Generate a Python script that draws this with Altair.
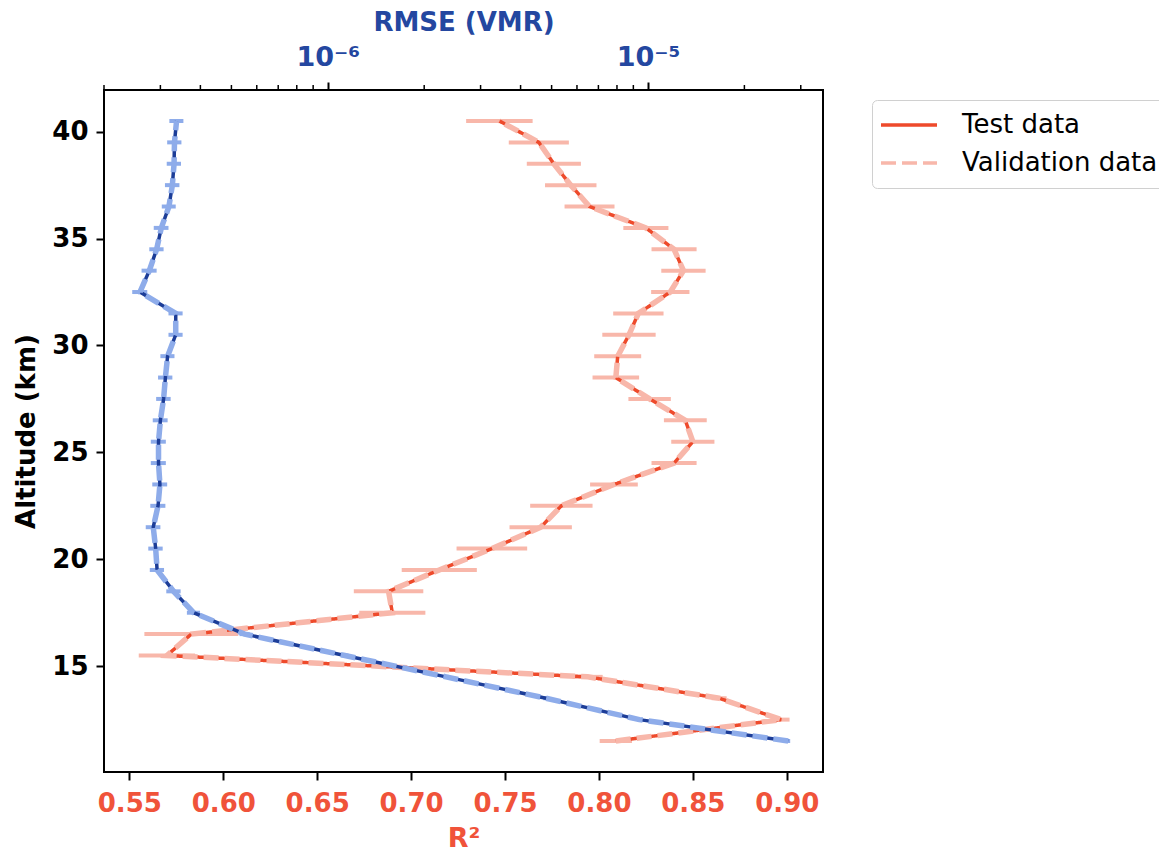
import altair as alt
import pandas as pd

# ---------------- data ----------------
altitude = [11.5, 12.5, 13.5, 14.5, 15.5, 16.5, 17.5, 18.5, 19.5, 20.5,
            21.5, 22.5, 23.5, 24.5, 25.5, 26.5, 27.5, 28.5, 29.5, 30.5,
            31.5, 32.5, 33.5, 34.5, 35.5, 36.5, 37.5, 38.5, 39.5, 40.5]

r2_values = [0.809, 0.897, 0.864, 0.794, 0.570, 0.583, 0.690, 0.688, 0.715, 0.743,
             0.769, 0.780, 0.808, 0.840, 0.850, 0.846, 0.827, 0.809, 0.810, 0.816,
             0.821, 0.838, 0.845, 0.840, 0.825, 0.795, 0.785, 0.776, 0.768, 0.747]

r2_err = [0.0086, 0.0045, 0.0040, 0.0080, 0.0150, 0.0250, 0.0176, 0.0185, 0.0200, 0.0188,
          0.0166, 0.0166, 0.0127, 0.0120, 0.0115, 0.0114, 0.0113, 0.0124, 0.0125, 0.0142,
          0.0134, 0.0102, 0.0118, 0.0120, 0.0120, 0.0133, 0.0137, 0.0144, 0.0160, 0.0177]

rmse_values = [2.74e-5, 9.4e-6, 4.8e-6, 2.34e-6, 1.13e-6, 5.5e-7, 3.81e-7, 3.30e-7, 2.93e-7, 2.90e-7,
               2.85e-7, 2.95e-7, 2.99e-7, 2.96e-7, 2.96e-7, 3.00e-7, 3.07e-7, 3.11e-7, 3.16e-7, 3.35e-7,
               3.35e-7, 2.59e-7, 2.77e-7, 2.92e-7, 3.02e-7, 3.19e-7, 3.27e-7, 3.31e-7, 3.32e-7, 3.37e-7]

rmse_err = [4.0e-7, 1.6e-7, 9.0e-8, 5.0e-8, 3.0e-8, 2.0e-8, 1.8e-8, 1.7e-8, 1.5e-8, 1.5e-8,
            1.5e-8, 1.6e-8, 1.6e-8, 1.6e-8, 1.6e-8, 1.6e-8, 1.6e-8, 1.6e-8, 1.6e-8, 1.7e-8,
            1.7e-8, 1.4e-8, 1.5e-8, 1.5e-8, 1.6e-8, 1.6e-8, 1.7e-8, 1.7e-8, 1.7e-8, 1.7e-8]

series_names = ["Test data", "Validation data"]
r2_ticks = [0.55, 0.60, 0.65, 0.70, 0.75, 0.80, 0.85, 0.90]
alt_ticks = [15, 20, 25, 30, 35, 40]
rmse_major = [1e-6, 1e-5]
rmse_minor = [2e-7, 3e-7, 4e-7, 5e-7, 6e-7, 7e-7, 8e-7, 9e-7,
              2e-6, 3e-6, 4e-6, 5e-6, 6e-6, 7e-6, 8e-6, 9e-6, 2e-5, 3e-5]

# ---------------- style ----------------
RED = "#ee4a2b"
SALMON = "#f8b7aa"
LABEL_RED = "#f0533a"
BLUE_DARK = "#1c3d98"
BLUE_LIGHT = "#8eacea"
LABEL_BLUE = "#2447a0"
FONT = "DejaVu Sans"
DASH = [15, 6]

# ---------------- tables ----------------
r2_test_df = pd.DataFrame({"alt": altitude, "r2": r2_values, "series": series_names[0]})
r2_val_df = pd.DataFrame({"alt": altitude, "r2": r2_values, "series": series_names[1]})
r2_err_df = pd.DataFrame({"alt": altitude,
                          "lo": [v - e for v, e in zip(r2_values, r2_err)],
                          "hi": [v + e for v, e in zip(r2_values, r2_err)]})
rmse_df = pd.DataFrame({"alt": altitude, "rmse": rmse_values})
rmse_err_df = pd.DataFrame({"alt": altitude,
                            "lo": [v - e for v, e in zip(rmse_values, rmse_err)],
                            "hi": [v + e for v, e in zip(rmse_values, rmse_err)]})
minor_df = pd.DataFrame({"t": rmse_minor})

# ---------------- scales / axes ----------------
y_scale = alt.Scale(domain=[10.05, 41.95], nice=False, zero=False)
r2_scale = alt.Scale(domain=[0.5365, 0.9193], nice=False, zero=False)
rmse_scale = alt.Scale(type="log", domain=[2.0e-7, 3.52e-5], nice=False)

y_axis = alt.Axis(values=alt_ticks, title="Altitude (km)", grid=False, domain=False,
                  tickSize=8, tickWidth=2, tickColor="black",
                  labelFont=FONT, labelFontSize=26, labelFontWeight="bold", labelColor="black",
                  labelPadding=8, titleFont=FONT, titleFontSize=26, titleFontWeight="bold",
                  titleColor="black", titlePadding=12)

r2_axis = alt.Axis(values=r2_ticks, format=".2f", title="R²", orient="bottom", grid=False,
                   domain=False, tickSize=8, tickWidth=2, tickColor="black",
                   labelFont=FONT, labelFontSize=26, labelFontWeight="bold", labelColor=LABEL_RED,
                   labelPadding=10, titleFont=FONT, titleFontSize=27, titleFontWeight="bold",
                   titleColor=LABEL_RED, titlePadding=9)

rmse_axis = alt.Axis(values=rmse_major, title="RMSE (VMR)", orient="top", grid=False,
                     domain=False, tickSize=8, tickWidth=2, tickColor="black",
                     labelExpr="datum.value < 5e-6 ? '10⁻⁶' : '10⁻⁵'",
                     labelFont=FONT, labelFontSize=27, labelFontWeight="bold", labelColor=LABEL_BLUE,
                     labelPadding=11, titleFont=FONT, titleFontSize=26, titleFontWeight="bold",
                     titleColor=LABEL_BLUE, titlePadding=8)

legend = alt.Legend(title=None, orient="none", legendX=768, legendY=10,
                    symbolType="M-1.6,0H4.0", symbolSize=400, symbolStrokeWidth=3.5,
                    labelFont=FONT, labelFontSize=26, labelColor="black", labelOffset=52,
                    labelLimit=600,
                    strokeColor="#d0d0d0", fillColor="white", padding=12, cornerRadius=5,
                    rowPadding=12)

color_scale = alt.Scale(domain=series_names, range=[RED, SALMON])
dash_scale = alt.Scale(domain=series_names, range=[[1, 0], DASH])


def y_enc():
    return alt.Y("alt:Q", scale=y_scale, axis=y_axis)


# ---------------- R² (bottom axis) ----------------
red_err = alt.Chart(r2_err_df).mark_rule(color=SALMON, strokeWidth=4).encode(
    x=alt.X("lo:Q", scale=r2_scale, axis=r2_axis), x2="hi:Q", y=y_enc())

red_test = alt.Chart(r2_test_df).mark_line(strokeWidth=3.5).encode(
    x=alt.X("r2:Q", scale=r2_scale, axis=r2_axis), y=y_enc(), order=alt.Order("alt:Q"),
    color=alt.Color("series:N", scale=color_scale, legend=legend),
    strokeDash=alt.StrokeDash("series:N", scale=dash_scale, legend=legend))

red_val = alt.Chart(r2_val_df).mark_line(strokeWidth=5.5).encode(
    x=alt.X("r2:Q", scale=r2_scale, axis=r2_axis), y=y_enc(), order=alt.Order("alt:Q"),
    color=alt.Color("series:N", scale=color_scale, legend=legend),
    strokeDash=alt.StrokeDash("series:N", scale=dash_scale, legend=legend))

red_group = alt.layer(red_err, red_test, red_val)

# ---------------- RMSE (top log axis) ----------------
blue_err = alt.Chart(rmse_err_df).mark_rule(color=BLUE_LIGHT, strokeWidth=4).encode(
    x=alt.X("lo:Q", scale=rmse_scale, axis=rmse_axis), x2="hi:Q", y=y_enc())

blue_test = alt.Chart(rmse_df).mark_line(color=BLUE_DARK, strokeWidth=3.5).encode(
    x=alt.X("rmse:Q", scale=rmse_scale, axis=rmse_axis), y=y_enc(), order=alt.Order("alt:Q"))

blue_val = alt.Chart(rmse_df).mark_line(color=BLUE_LIGHT, strokeWidth=5.5, strokeDash=DASH).encode(
    x=alt.X("rmse:Q", scale=rmse_scale, axis=rmse_axis), y=y_enc(), order=alt.Order("alt:Q"))

blue_minor = alt.Chart(minor_df).mark_rule(color="black", strokeWidth=1.5).encode(
    x=alt.X("t:Q", scale=rmse_scale, axis=rmse_axis), y=alt.value(0), y2=alt.value(-5))

blue_group = alt.layer(blue_err, blue_test, blue_val, blue_minor)

chart = alt.layer(red_group, blue_group).resolve_scale(x="independent").properties(
    width=719, height=682,
    autosize=alt.AutoSizeParams(type="none"),
    padding={"left": 104, "top": 90, "right": 336, "bottom": 80},
).configure_view(stroke="black", strokeWidth=2)

chart.save("out.html", embed_options={"renderer": "svg", "actions": False})
